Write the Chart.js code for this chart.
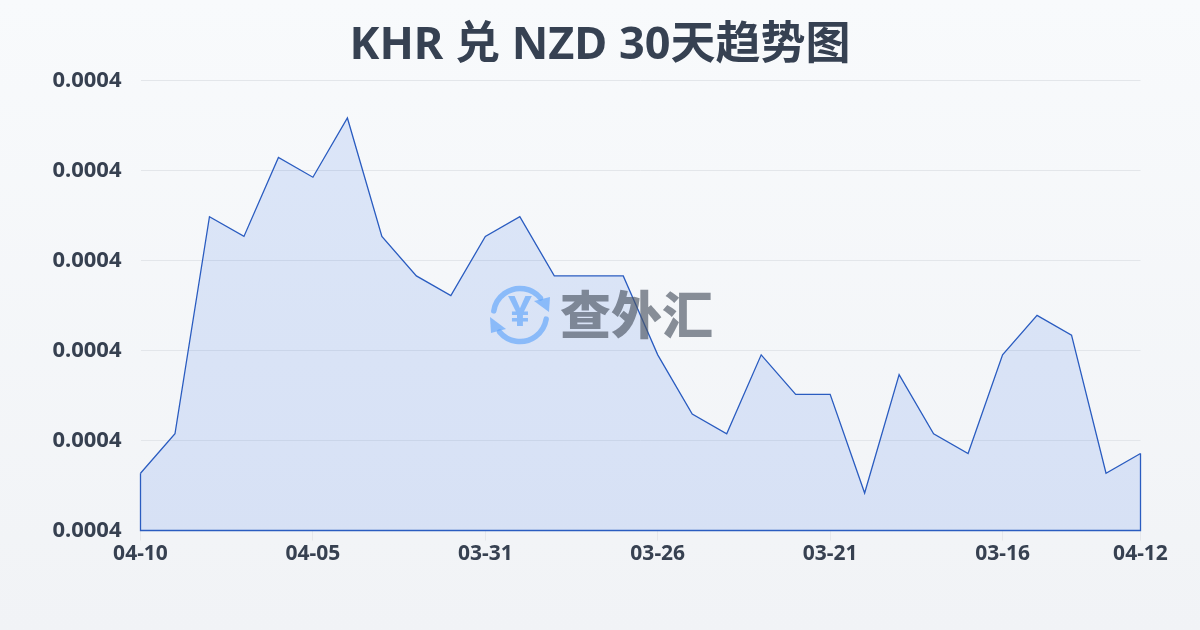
<!DOCTYPE html>
<html>
<head>
<meta charset="utf-8">
<title>KHR 兑 NZD 30天趋势图</title>
<script src="https://cdn.jsdelivr.net/npm/chart.js@4"></script>
<style>
  html, body { margin: 0; padding: 0; }
  body { width: 1200px; height: 630px; overflow: hidden; background: linear-gradient(180deg, #f8fafc 0%, #f1f3f6 100%); }
  canvas { display: block; }
</style>
</head>
<body>
<canvas id="rateChart" width="1200" height="630"></canvas>
<script>
var titleText = 'KHR 兑 NZD 30天趋势图';

var dates = ['04-10','04-09','04-08','04-07','04-06','04-05','04-04','04-03','04-02','04-01',
             '03-31','03-30','03-29','03-28','03-27','03-26','03-25','03-24','03-23','03-22',
             '03-21','03-20','03-19','03-18','03-17','03-16','03-15','03-14','03-13','04-12'];

var rates = [0.000383,0.000385,0.000396,0.000395,0.000399,0.000398,0.000401,0.000395,0.000393,0.000392,
             0.000395,0.000396,0.000393,0.000393,0.000393,0.000389,0.000386,0.000385,0.000389,0.000387,
             0.000387,0.000382,0.000388,0.000385,0.000384,0.000389,0.000391,0.000390,0.000383,0.000384];

var yTicks = [0.0003801,0.00038466,0.00038922,0.00039378,0.00039834,0.0004029];
var labelEvery = 5;

var font = '"Noto Sans", "Noto Sans CJK SC", sans-serif';
var textColor = '#374151';
var lineColor = '#2a5cc0';

// the area outline runs down both sides and along the bottom too
var outline = {
  id: 'outline',
  afterDatasetsDraw: function(chart) {
    var c = chart.ctx, x = chart.scales.x, y = chart.scales.y;
    var last = rates.length - 1;
    c.save();
    c.strokeStyle = lineColor;
    c.lineWidth = 1.3;
    c.beginPath();
    c.moveTo(x.getPixelForValue(0), y.getPixelForValue(rates[0]));
    c.lineTo(x.getPixelForValue(0), y.bottom);
    c.lineTo(x.getPixelForValue(last), y.bottom);
    c.lineTo(x.getPixelForValue(last), y.getPixelForValue(rates[last]));
    c.stroke();
    c.restore();
  }
};

var watermark = {
  id: 'watermark',
  afterDatasetsDraw: function(chart) {
    var c = chart.ctx;
    c.save();
    c.globalAlpha = 0.65;

    c.strokeStyle = '#60a5fa';
    c.fillStyle = '#60a5fa';
    c.lineWidth = 5.5;
    c.lineCap = 'round';
    c.beginPath();
    c.arc(520, 315, 26.5, Math.PI * 1.05, Math.PI * 1.78);
    c.stroke();
    c.beginPath();
    c.arc(520, 315, 26.5, Math.PI * 0.05, Math.PI * 0.78);
    c.stroke();
    c.beginPath();
    c.moveTo(534, 301); c.lineTo(550, 297); c.lineTo(549, 312);
    c.closePath();
    c.fill();
    c.beginPath();
    c.moveTo(506, 329); c.lineTo(490, 317); c.lineTo(491, 333);
    c.closePath();
    c.fill();

    c.textAlign = 'center';
    c.textBaseline = 'middle';
    c.font = 'bold 42px ' + font;
    c.fillText('¥', 520, 314);

    c.fillStyle = '#4b5563';
    c.textAlign = 'left';
    c.font = '900 51px "Noto Sans CJK SC", sans-serif';
    c.fillText('查外汇', 560, 315);
    c.restore();
  }
};

new Chart(document.getElementById('rateChart'), {
  type: 'line',
  data: {
    labels: dates,
    datasets: [{
      data: rates,
      borderColor: lineColor,
      borderWidth: 1.3,
      backgroundColor: 'rgba(37, 99, 235, 0.13)',
      fill: 'start',
      tension: 0,
      pointRadius: 0
    }]
  },
  plugins: [outline, watermark],
  options: {
    responsive: false,
    animation: false,
    devicePixelRatio: 1,
    plugins: {
      legend: { display: false },
      tooltip: { enabled: false },
      title: {
        display: true,
        text: titleText,
        color: '#364152',
        font: { family: font, size: 45, weight: 'bold', lineHeight: 1.2 },
        padding: { top: 19, bottom: 7.5 }
      }
    },
    scales: {
      x: {
        offset: false,
        border: { display: false },
        grid: { drawOnChartArea: false, drawTicks: true, tickLength: 10, tickColor: '#e5e7eb' },
        ticks: {
          autoSkip: false,
          maxRotation: 0,
          padding: 1,
          color: textColor,
          font: { family: font, size: 21, weight: 'bold' }
        },
        afterBuildTicks: function(axis) {
          axis.ticks = axis.ticks.filter(function(t, i) {
            return i % labelEvery === 0 || i === dates.length - 1;
          });
        },
        afterFit: function(axis) { axis.height = 99.5; }
      },
      y: {
        min: yTicks[0],
        max: yTicks[yTicks.length - 1],
        border: { display: false },
        grid: { color: '#e3e6ea', drawTicks: false },
        ticks: {
          padding: 19,
          color: textColor,
          font: { family: font, size: 22, weight: 'bold' },
          callback: function(v) { return v.toFixed(4); }
        },
        afterBuildTicks: function(axis) {
          axis.ticks = yTicks.map(function(v) { return { value: v }; });
        },
        afterFit: function(axis) { axis.width = 140.5; }
      },
      // empty axis, keeps the right margin without pulling the title off centre
      spacer: {
        position: 'right',
        border: { display: false },
        grid: { display: false },
        ticks: { display: false },
        afterFit: function(axis) { axis.width = 59.5; }
      }
    }
  }
});
</script>
</body>
</html>
